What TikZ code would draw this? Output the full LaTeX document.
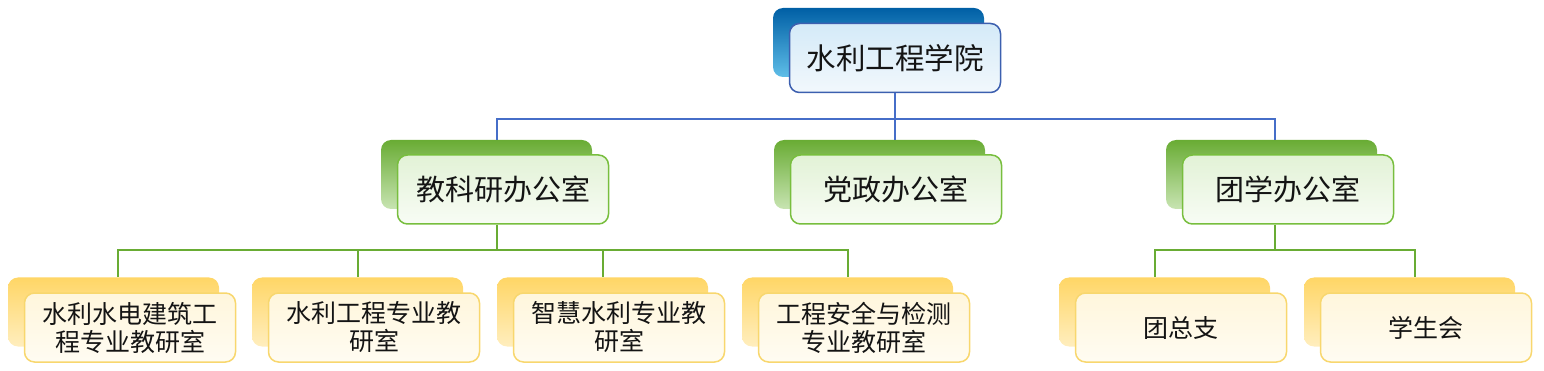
\documentclass[tikz,border=0pt]{standalone}
\usepackage{fontspec}
\newfontfamily\cjk{Noto Sans CJK SC}
\definecolor{bluedark}{RGB}{0,95,165}
\definecolor{bluelight}{RGB}{95,190,232}
\definecolor{bluefront}{RGB}{212,234,248}
\definecolor{bluefront2}{RGB}{242,248,252}
\definecolor{blueline}{RGB}{60,95,175}
\definecolor{conblue}{RGB}{70,110,200}
\definecolor{greendark}{RGB}{105,172,52}
\definecolor{greenlight}{RGB}{200,228,178}
\definecolor{greenfront}{RGB}{226,242,214}
\definecolor{greenfront2}{RGB}{248,252,245}
\definecolor{greenline}{RGB}{120,190,62}
\definecolor{yellowdark}{RGB}{255,214,102}
\definecolor{yellowlight}{RGB}{255,238,190}
\definecolor{yellowfront}{RGB}{255,246,220}
\definecolor{yellowfront2}{RGB}{255,252,242}
\definecolor{yellowline}{RGB}{248,215,110}
\definecolor{txt}{RGB}{20,20,20}
\tikzset{
  box/.style={rounded corners=10pt, minimum width=211pt, minimum height=69pt, inner sep=0pt, align=center, text=txt},
  backblue/.style={box, top color=bluedark, bottom color=bluelight},
  frontblue/.style={box, draw=blueline, line width=1.5pt, top color=bluefront, bottom color=bluefront2, font=\cjk\fontsize{29.5}{32}\selectfont},
  backgreen/.style={box, top color=greendark, bottom color=greenlight},
  frontgreen/.style={box, draw=greenline, line width=1.5pt, top color=greenfront, bottom color=greenfront2, font=\cjk\fontsize{29}{32}\selectfont},
  backyellow/.style={box, top color=yellowdark, bottom color=yellowlight},
  frontyellow/.style={box, draw=yellowline, line width=1.5pt, top color=yellowfront, bottom color=yellowfront2, font=\cjk\fontsize{25}{28}\selectfont},
  conb/.style={draw=conblue, line width=1.5pt},
  cong/.style={draw=greendark, line width=1.5pt},
}
\begin{document}
\begin{tikzpicture}[x=1pt,y=-1pt]
\useasboundingbox (0,0) rectangle (1544,371);
% top
\node[backblue] (topb) at (878.5,42.5) {};
\node[frontblue] (top) at (895,58) {水利工程学院};
% level 2
\node[backgreen] (jkyb) at (486.5,174.5) {};
\node[frontgreen] (jky) at (503,189.5) {教科研办公室};
\node[backgreen] (dzb) at (879.5,174.5) {};
\node[frontgreen] (dz) at (896,189.5) {党政办公室};
\node[backgreen] (txb) at (1271.5,174.5) {};
\node[frontgreen] (tx) at (1288,189.5) {团学办公室};
% level 3
\node[backyellow] (s1b) at (113.5,312) {};
\node[frontyellow] (s1) at (130,327.5) {水利水电建筑工\\程专业教研室};
\node[backyellow] (s2b) at (357.5,312) {};
\node[frontyellow] (s2) at (374,327.5) {水利工程专业教\\研室};
\node[backyellow] (s3b) at (602.5,312) {};
\node[frontyellow] (s3) at (619,327.5) {智慧水利专业教\\研室};
\node[backyellow] (s4b) at (847.5,312) {};
\node[frontyellow] (s4) at (864,327.5) {工程安全与检测\\专业教研室};
\node[backyellow] (s5b) at (1164.5,312) {};
\node[frontyellow] (s5) at (1181,327.5) {团总支};
\node[backyellow] (s6b) at (1409.5,312) {};
\node[frontyellow] (s6) at (1426,327.5) {学生会};
% connectors level 1-2
\coordinate (j1) at (895,119);
\path[conb] (top.south) -- (j1);
\path[conb] (j1) -| ([xshift=10.5pt]jkyb.north);
\path[conb] (j1) -| ([xshift=3.5pt]txb.north);
\path[conb] (j1) -- (dzb.north -| top.south);
% connectors level 2-3
\coordinate (j2) at (497,250);
\path[cong] ([xshift=-6pt]jky.south) -- (j2);
\path[cong] (j2) -| ([xshift=4.5pt]s1b.north);
\path[cong] (j2) -| ([xshift=0.5pt]s2b.north);
\path[cong] (j2) -| ([xshift=0.5pt]s3b.north);
\path[cong] (j2) -| ([xshift=0.5pt]s4b.north);
\coordinate (j3) at (1275,250);
\path[cong] ([xshift=-13pt]tx.south) -- (j3);
\path[cong] (j3) -| ([xshift=-9.5pt]s5b.north);
\path[cong] (j3) -| ([xshift=5.5pt]s6b.north);
\end{tikzpicture}
\end{document}
